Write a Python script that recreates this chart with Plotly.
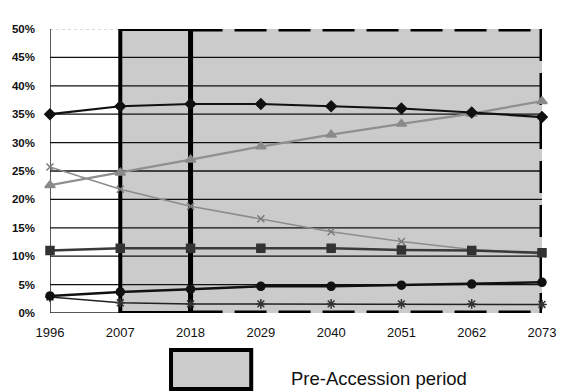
import plotly.graph_objects as go

# Projection years and share of each series (%)
years = [1996, 2007, 2018, 2029, 2040, 2051, 2062, 2073]
diamond_share = [35.0, 36.4, 36.8, 36.8, 36.4, 36.0, 35.3, 34.5]
triangle_share = [22.5, 24.7, 27.0, 29.3, 31.4, 33.3, 35.1, 37.3]
cross_share = [25.7, 21.8, 18.8, 16.6, 14.3, 12.6, 11.2, 10.4]
square_share = [11.0, 11.4, 11.4, 11.4, 11.4, 11.1, 11.0, 10.6]
circle_share = [3.0, 3.7, 4.2, 4.7, 4.7, 4.9, 5.1, 5.4]
star_share = [2.8, 1.8, 1.6, 1.6, 1.6, 1.6, 1.6, 1.5]

y_ticks = [0, 5, 10, 15, 20, 25, 30, 35, 40, 45, 50]
y_labels = [f"{v}%" for v in y_ticks]

period_start, accession_year, period_end = 2007, 2018, 2073
shade = "#cbcbcb"
font_family = "Liberation Sans, Arial, sans-serif"

fig = go.Figure()

series = [
    (cross_share, "#8c8c8c", 1.5, "x-thin-open", 7, "#7a7a7a"),
    (triangle_share, "#8f8f8f", 2.2, "triangle-up", 9, "#8a8a8a"),
    (diamond_share, "#111111", 2.2, "diamond", 8, "#111111"),
    (square_share, "#3a3a3a", 2.5, "square", 8, "#333333"),
    (star_share, "#222222", 1.5, "asterisk-open", 8, "#333333"),
    (circle_share, "#111111", 2.5, "circle", 8, "#111111"),
]
for vals, lc, lw, sym, ms, mc in series:
    fig.add_trace(go.Scatter(
        x=years, y=vals, mode="lines+markers",
        line=dict(color=lc, width=lw),
        marker=dict(symbol=sym, size=ms, color=mc, line=dict(color=mc, width=1.5)),
        cliponaxis=False, showlegend=False,
    ))

shapes = []
# shaded projection period
shapes.append(dict(type="rect", xref="x", yref="y", x0=period_start, x1=period_end,
                   y0=0, y1=50, fillcolor=shade, line=dict(width=0), layer="below"))
# horizontal gridlines
for v in y_ticks[1:-1]:
    shapes.append(dict(type="line", xref="x", yref="y", x0=years[0], x1=period_end,
                       y0=v, y1=v, line=dict(color="#111111", width=1.3), layer="below"))
# faint top line before the shaded period
shapes.append(dict(type="line", xref="x", yref="y", x0=years[0], x1=period_start, y0=50, y1=50,
                   line=dict(color="#b0b0b0", width=1, dash="dot"), layer="below"))
# left axis and bottom line before the shaded period
shapes.append(dict(type="line", xref="x", yref="y", x0=years[0], x1=years[0], y0=0, y1=50,
                   line=dict(color="#222222", width=1.5), layer="below"))
shapes.append(dict(type="line", xref="x", yref="y", x0=years[0], x1=period_start, y0=0, y1=0,
                   line=dict(color="#222222", width=1.5), layer="below"))
# solid frame 2007-2018
shapes.append(dict(type="rect", xref="x", yref="y", x0=period_start, x1=accession_year,
                   y0=0, y1=50, line=dict(color="#000000", width=4), layer="below"))
# dashed frame 2018-2073
dash = "32px,12px"
for x0, x1, y0, y1 in [(accession_year, period_end, 50, 50),
                       (period_end, period_end, 50, 0),
                       (accession_year, period_end, 0, 0)]:
    shapes.append(dict(type="line", xref="x", yref="y", x0=x0, x1=x1, y0=y0, y1=y1,
                       line=dict(color="#000000", width=5, dash=dash), layer="below"))
# thick line at 2018
shapes.append(dict(type="line", xref="x", yref="y", x0=accession_year, x1=accession_year,
                   y0=0, y1=50, line=dict(color="#000000", width=5), layer="below"))
# legend swatch
shapes.append(dict(type="rect", xref="paper", yref="paper", x0=0.246, x1=0.409,
                   y0=-0.268, y1=-0.130, fillcolor=shade, line=dict(color="#000000", width=4)))

fig.update_layout(
    width=568, height=392,
    margin=dict(l=48, r=16, t=29, b=79),
    paper_bgcolor="white", plot_bgcolor="white",
    shapes=shapes,
    font=dict(family=font_family, color="#111111"),
    annotations=[dict(text="Pre-Accession period", xref="paper", yref="paper",
                      x=0.486, y=-0.229, xanchor="left", yanchor="middle",
                      showarrow=False, font=dict(size=18.5, color="#111111"))],
)
fig.update_xaxes(range=[years[0], period_end], tickvals=years, ticktext=[str(y) for y in years],
                 showgrid=False, zeroline=False, showline=False,
                 tickfont=dict(size=13, family=font_family, color="#111111"),
                 ticks="", ticklabelstandoff=10)
fig.update_yaxes(range=[0, 50], tickvals=y_ticks, ticktext=[f"<b>{t}</b>" for t in y_labels],
                 showgrid=False, zeroline=False, showline=False,
                 tickfont=dict(size=11.5, family=font_family, color="#111111"),
                 ticks="", ticklabelstandoff=14)

fig.write_html("out.html")
